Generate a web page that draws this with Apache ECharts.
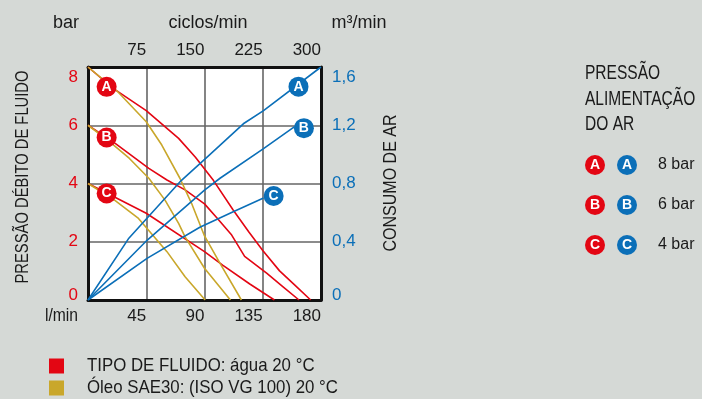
<!DOCTYPE html>
<html><head><meta charset="utf-8">
<script src="https://cdn.jsdelivr.net/npm/echarts@6/dist/echarts.min.js"></script>
<style>html,body{margin:0;padding:0;background:#d5d9d6;}#c{width:702px;height:399px;}</style>
</head><body><div id="c"></div>
<script>
// Flow (l/min) vs fluid pressure (bar)
const waterA = [[0,8],[20,7.25],[45,6.5],[70,5.55],[83,4.9],[97,4.1],[112,3.1],[124,2.35],[135,1.7],[148,1.0],[160,0.5],[172,0]];
const waterB = [[0,6],[21,5.38],[47,4.52],[61,4.12],[75,3.78],[90,3.3],[100,2.8],[111,2.23],[121,1.5],[138,0.92],[150,0.48],[163,0]];
const waterC = [[0,4],[45,2.98],[90,1.66],[104,1.2],[125,0.55],[144,0]];
const oilA = [[0,8],[23,7.15],[45,6.12],[57,5.32],[71,4.18],[80,3.32],[90,2.2],[102,1.26],[118.5,0]];
const oilB = [[0,6],[15,5.5],[32,4.86],[47,4.18],[59.5,3.43],[70,2.63],[75,2.17],[90,1.09],[110,0]];
const oilC = [[0,4],[20,3.45],[39,2.8],[61,1.66],[75,0.8],[90.5,0]];
// Cycles/min vs air consumption (m3/min)
const airA = [[0,0],[52,0.42],[120,0.82],[153,0.98],[200,1.21],[226,1.3],[300,1.6]];
const airB = [[0,0],[76,0.41],[150,0.755],[170,0.836],[226,1.04],[266,1.19]];
const airC = [[0,0],[76,0.286],[144,0.5],[187,0.606],[226,0.70]];
// Curve markers
const waterMarks = [[14.4,7.32,'A'],[14.4,5.58,'B'],[14.4,3.66,'C']];
const airMarks = [[271,1.465,'A'],[278,1.18,'B'],[239,0.714,'C']];
// Axis ticks
const flowTicks = [0,45,90,135,180];
const cycleTicks = [0,75,150,225,300];
const pressTicks = [0,2,4,6,8];
const airTicks = [0,0.4,0.8,1.2,1.6];
// Legend
const pressureLegend = [['A','8 bar'],['B','6 bar'],['C','4 bar']];
const fluidLegend = ['TIPO DE FLUIDO: água 20 °C','Óleo SAE30: (ISO VG 100) 20 °C'];

const RED='#e30613', OIL='#c9a72b', BLUE='#0b6fb8';
const FONT='"Liberation Sans",Arial,sans-serif';

const chart = echarts.init(document.getElementById('c'));
function lineS(data, color, xi, yi){
  return {type:'line', data:data, xAxisIndex:xi, yAxisIndex:yi, symbol:'none', smooth:false,
    lineStyle:{color:color, width:1.6}, z:3, animation:false};
}
function markS(data, color, xi, yi){
  return {type:'scatter', data:data, xAxisIndex:xi, yAxisIndex:yi, symbol:'circle', symbolSize:20,
    itemStyle:{color:color, opacity:1}, z:5, animation:false,
    label:{show:true, position:'inside', formatter:p=>p.data[2], color:'#fff', fontWeight:'bold', fontSize:14, fontFamily:FONT}};
}
const axisLineStyle = {show:true, onZero:false, lineStyle:{color:'#111', width:3}};
const graphics = [];
function txt(x,y,t,opt,sx){ graphics.push({type:'text', x:x, y:y, scaleX:sx||1, style:Object.assign({text:t, fill:'#1a1a1a', font:'18px '+FONT, textAlign:'center', textVerticalAlign:'middle'}, opt||{})}); }
txt(66,23,'bar');
txt(208,23,'ciclos/min');
txt(359,23,'m³/min');
txt(78,316,'l/min',{textAlign:'right'},0.87);
graphics.push({type:'text', x:23, y:177, rotation:Math.PI/2, scaleX:0.82, style:{text:'PRESSÃO DÉBITO DE FLUIDO', fill:'#1a1a1a', font:'18px '+FONT, textAlign:'center', textVerticalAlign:'middle'}});
graphics.push({type:'text', x:391, y:183, rotation:Math.PI/2, scaleX:0.89, style:{text:'CONSUMO DE AR', fill:'#1a1a1a', font:'18px '+FONT, textAlign:'center', textVerticalAlign:'middle'}});
txt(585,73,'PRESSÃO',{textAlign:'left', font:'21px '+FONT},0.74);
txt(585,99,'ALIMENTAÇÃO',{textAlign:'left', font:'21px '+FONT},0.74);
txt(585,124,'DO AR',{textAlign:'left', font:'21px '+FONT},0.74);
pressureLegend.forEach((p,i)=>{
  const y = 165 + i*40;
  graphics.push({type:'circle', shape:{cx:595, cy:y, r:10}, style:{fill:RED}});
  graphics.push({type:'text', x:595, y:y, style:{text:p[0], fill:'#fff', font:'bold 14px '+FONT, textAlign:'center', textVerticalAlign:'middle'}});
  graphics.push({type:'circle', shape:{cx:627, cy:y, r:10}, style:{fill:BLUE}});
  graphics.push({type:'text', x:627, y:y, style:{text:p[0], fill:'#fff', font:'bold 14px '+FONT, textAlign:'center', textVerticalAlign:'middle'}});
  txt(658, y, p[1], {textAlign:'left', font:'16px '+FONT});
});
[RED, OIL].forEach((c,i)=>{
  const y = 366 + i*22;
  graphics.push({type:'rect', shape:{x:49, y:y-7.5, width:15, height:15}, style:{fill:c}});
  txt(87, y, fluidLegend[i], {textAlign:'left', font:'18.5px '+FONT}, 0.91);
});

const yLab = {margin:10, fontSize:17, fontFamily:FONT, lineHeight:10, padding:[5,0,0,0],
  verticalAlignMaxLabel:'top', verticalAlignMinLabel:'bottom'};
chart.setOption({
  backgroundColor:'#d5d9d6',
  animation:false,
  grid:{left:88, top:67, width:233, height:233, show:true, backgroundColor:'#fff', borderWidth:0},
  xAxis:[
    {type:'value', position:'bottom', min:flowTicks[0], max:flowTicks[flowTicks.length-1], interval:flowTicks[1]-flowTicks[0],
     axisLine:axisLineStyle, axisTick:{show:false}, splitLine:{show:true, lineStyle:{color:'#666', width:1.6}},
     axisLabel:{formatter:v=>v===0?'':String(v), align:'right', margin:8, color:'#1a1a1a', fontSize:17, fontFamily:FONT}},
    {type:'value', position:'top', min:cycleTicks[0], max:cycleTicks[cycleTicks.length-1], interval:cycleTicks[1]-cycleTicks[0],
     axisLine:axisLineStyle, axisTick:{show:false}, splitLine:{show:false},
     axisLabel:{formatter:v=>v===0?'':String(v), align:'right', margin:8, color:'#1a1a1a', fontSize:17, fontFamily:FONT}}
  ],
  yAxis:[
    {type:'value', position:'left', min:pressTicks[0], max:pressTicks[pressTicks.length-1], interval:pressTicks[1]-pressTicks[0],
     axisLine:axisLineStyle, axisTick:{show:false}, splitLine:{show:true, lineStyle:{color:'#666', width:1.6}},
     axisLabel:Object.assign({color:RED}, yLab)},
    {type:'value', position:'right', min:airTicks[0], max:airTicks[airTicks.length-1], interval:0.4,
     axisLine:axisLineStyle, axisTick:{show:false}, splitLine:{show:false},
     axisLabel:Object.assign({color:BLUE, formatter:v=>v===0?'0':v.toFixed(1).replace('.',',')}, yLab, {margin:11})}
  ],
  series:[
    lineS(waterA,RED,0,0), lineS(waterB,RED,0,0), lineS(waterC,RED,0,0),
    lineS(oilA,OIL,0,0), lineS(oilB,OIL,0,0), lineS(oilC,OIL,0,0),
    lineS(airA,BLUE,1,1), lineS(airB,BLUE,1,1), lineS(airC,BLUE,1,1),
    markS(waterMarks,RED,0,0), markS(airMarks,BLUE,1,1)
  ],
  graphic:graphics
});
</script></body></html>
